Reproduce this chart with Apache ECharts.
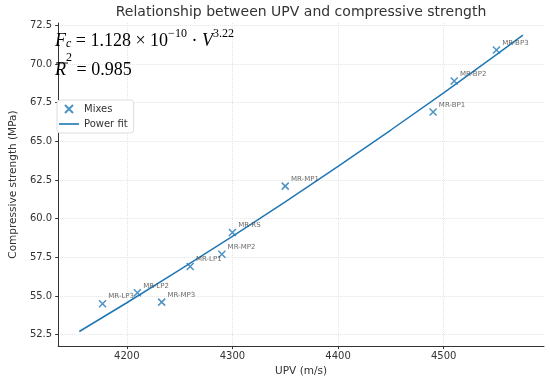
<!DOCTYPE html>
<html><head><meta charset="utf-8">
<script src="https://cdn.jsdelivr.net/npm/echarts@6/dist/echarts.min.js"></script>
<style>html,body{margin:0;padding:0;background:#fff}#c{width:550px;height:382px}</style>
</head><body><div id="c"></div>
<script>
// Measured mixes
const mixNames = ['MR-LP3','MR-LP2','MR-MP3','MR-LP1','MR-MP2','MR-RS','MR-MP1','MR-BP1','MR-BP2','MR-BP3'];
const mixUPV   = [4177, 4210, 4233, 4260, 4290, 4300, 4350, 4490, 4510, 4550];
const mixFc    = [54.5, 55.2, 54.6, 56.9, 57.7, 59.1, 62.1, 66.9, 68.9, 70.9];
// Power fit curve
const fitUPV = [4155, 4200, 4250, 4300, 4350, 4400, 4450, 4500, 4550, 4575];
const fitFc  = [52.70, 54.56, 56.68, 58.85, 61.09, 63.38, 65.73, 68.13, 70.60, 71.86];
// Tick labels
const xTicks = [4200, 4300, 4400, 4500];
const yTicks = [52.5, 55.0, 57.5, 60.0, 62.5, 65.0, 67.5, 70.0, 72.5];

const BLUE = '#1f77b4';
const FONT = 'DejaVu Sans';
const serif = 'Liberation Serif';
const chart = echarts.init(document.getElementById('c'), null, {renderer: 'canvas'});

const base = {fontFamily: serif, fontSize: 18, color: '#111', lineHeight: 22, verticalAlign: 'bottom', padding: [0, 0, 4, 0]};
const rich1 = {
  i: Object.assign({}, base, {fontStyle: 'italic'}),
  n: Object.assign({}, base),
  sub: {fontFamily: serif, fontStyle: 'italic', fontSize: 12, color: '#111', lineHeight: 14, verticalAlign: 'bottom', padding: [0, 0, 4, 0]},
  sup: {fontFamily: serif, fontSize: 12, color: '#111', lineHeight: 14, verticalAlign: 'bottom', padding: [0, 0, 14, 0]}
};
const rich2 = {
  i: Object.assign({}, base, {fontStyle: 'italic'}),
  n: Object.assign({}, base),
  sup: {fontFamily: serif, fontSize: 12, color: '#111', lineHeight: 14, verticalAlign: 'bottom', padding: [0, 0, 19, 0]}
};

chart.setOption({
  animation: false,
  textStyle: {fontFamily: FONT},
  title: {
    text: 'Relationship between UPV and compressive strength',
    left: 296, top: 0, textAlign: 'center',
    textStyle: {fontFamily: FONT, fontSize: 14, fontWeight: 'normal', color: '#333'}
  },
  grid: {left: 48, right: 6, top: 23, bottom: 34},
  legend: {
    orient: 'vertical', left: 57, top: 100,
    data: [
      {name: 'Mixes'},
      {name: 'Power fit', icon: 'path://M0,0H20V1.6H0Z'}
    ],
    itemWidth: 20, itemHeight: 8, itemGap: 5,
    padding: [4, 6, 4, 2],
    backgroundColor: '#fff', borderColor: '#ddd', borderWidth: 1, borderRadius: 3,
    textStyle: {fontFamily: FONT, fontSize: 10, color: '#333'}
  },
  xAxis: {
    type: 'value', min: 4135, max: 4595,
    name: 'UPV (m/s)', nameLocation: 'middle', nameGap: 17,
    nameTextStyle: {fontFamily: FONT, fontSize: 10.5, color: '#333'},
    axisLine: {show: true, lineStyle: {color: '#333', width: 1}},
    axisTick: {show: true, length: 3, customValues: xTicks, lineStyle: {color: '#333'}},
    axisLabel: {customValues: xTicks, margin: 5, fontSize: 10, color: '#333', fontFamily: FONT,
      formatter: v => String(v)},
    splitLine: {show: true, lineStyle: {color: '#e4e4e4', type: 'dotted', width: 1}}
  },
  yAxis: {
    type: 'value', min: 51.756, max: 72.65,
    name: 'Compressive strength (MPa)', nameLocation: 'middle', nameGap: 31,
    nameTextStyle: {fontFamily: FONT, fontSize: 10.5, color: '#333'},
    axisLine: {show: true, lineStyle: {color: '#333', width: 1}},
    axisTick: {show: true, length: 3, customValues: yTicks, lineStyle: {color: '#333'}},
    axisLabel: {customValues: yTicks, margin: 6, fontSize: 10, color: '#333', fontFamily: FONT,
      formatter: v => v.toFixed(1)},
    splitLine: {show: true, lineStyle: {color: '#e4e4e4', type: 'dotted', width: 1}}
  },
  graphic: [
    {type: 'text', left: 55, top: 28, z: 100, style: {
      text: '{i|F}{sub|c}{n| = 1.128 × 10}{sup|−10}{n| · }{i|V}{sup|3.22}',
      rich: rich1
    }},
    {type: 'text', left: 55, top: 52, z: 100, style: {
      text: '{i|R}{sup|2}{n| = 0.985}',
      rich: rich2
    }},
    {type: 'line', z: 100, shape: {x1: 56, y1: 63, x2: 68, y2: 63},
      style: {stroke: '#111', lineWidth: 1}}
  ],
  series: [
    {
      name: 'Mixes', type: 'scatter',
      symbol: 'path://M0,0L10,10M10,0L0,10', symbolSize: 7,
      itemStyle: {color: BLUE, borderColor: BLUE, borderWidth: 1.5},
      data: mixUPV.map((v, i) => ({value: [v, mixFc[i]], name: mixNames[i]})),
      label: {show: true, position: 'right', distance: 1.5, offset: [0, -7],
        formatter: p => p.name, fontFamily: FONT, fontSize: 7, color: '#444'},
      z: 3
    },
    {
      name: 'Power fit', type: 'line', symbol: 'none', smooth: false,
      lineStyle: {color: BLUE, width: 1.5}, itemStyle: {color: BLUE},
      data: fitUPV.map((v, i) => [v, fitFc[i]]),
      z: 2
    }
  ]
});
</script></body></html>
